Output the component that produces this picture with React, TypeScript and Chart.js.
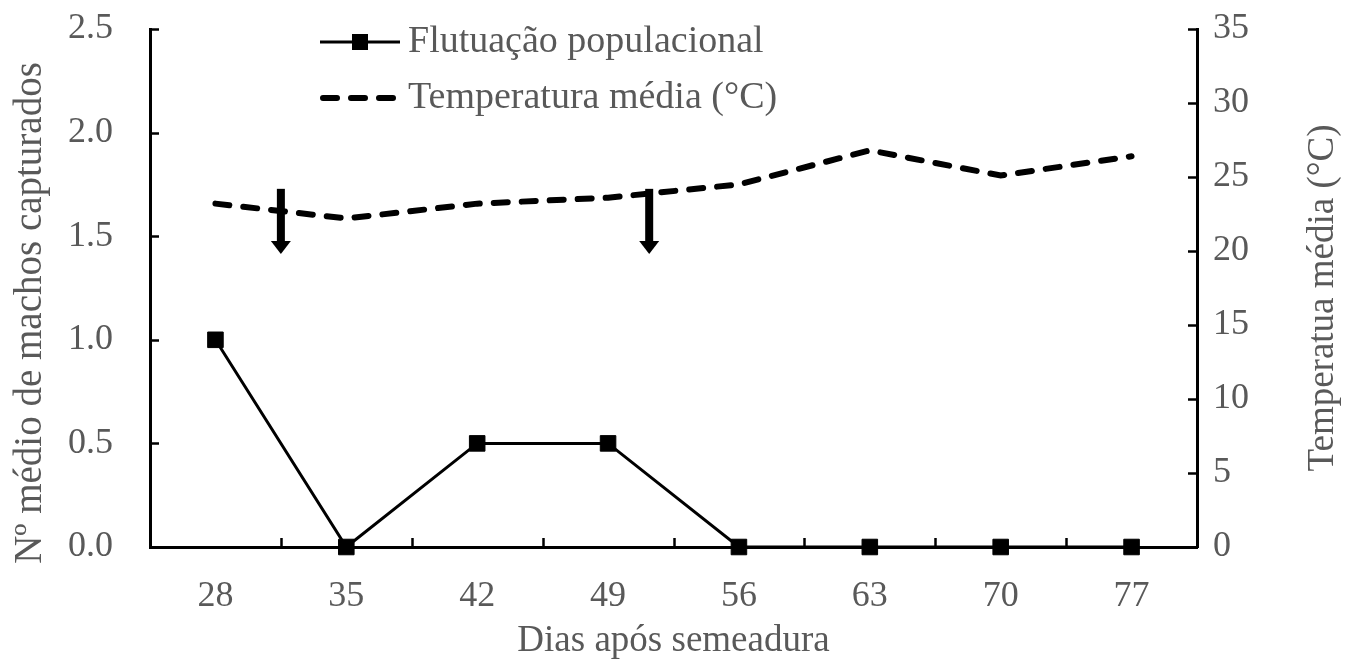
import React, { useEffect, useRef } from 'react';
import { Chart, registerables } from 'chart.js';

Chart.register(...registerables);

// ---- data ----
const days = ['28', '35', '42', '49', '56', '63', '70', '77'];
const males = [1.0, 0, 0.5, 0.5, 0, 0, 0, 0];
const temperature = [23.2, 22.2, 23.2, 23.6, 24.5, 26.8, 25.1, 26.4];
const leftTickValues = [0, 0.5, 1.0, 1.5, 2.0, 2.5];
const rightTickValues = [0, 5, 10, 15, 20, 25, 30, 35];
const arrowDays = [31.5, 51.2];
const arrowTopTemp = 24.2;
const arrowTipTemp = 19.8;
const seriesNames = ['Flutuação populacional', 'Temperatura média (°C)'];
const xTitle = 'Dias após semeadura';
const yTitle = 'Nº médio de machos capturados';
const y1Title = 'Temperatua média (°C)';

const FONT = '"Liberation Serif", "Times New Roman", serif';
const TEXT = '#595959';

const PLOT = { left: 150, right: 1197, top: 29, bottom: 547 };

const decorPlugin = {
  id: 'decor',
  afterDatasetsDraw(chart: any) {
    const { ctx, scales } = chart;
    const x = scales.x;
    const y1 = scales.y1;
    ctx.save();
    ctx.fillStyle = '#000';
    arrowDays.forEach((d) => {
      const idx = (d - Number(days[0])) / (Number(days[1]) - Number(days[0]));
      const px = x.getPixelForValue(idx);
      const top = y1.getPixelForValue(arrowTopTemp);
      const tip = y1.getPixelForValue(arrowTipTemp);
      const headH = 13;
      ctx.fillRect(px - 4, top, 8, tip - top - headH + 1);
      ctx.beginPath();
      ctx.moveTo(px - 10, tip - headH);
      ctx.lineTo(px + 10, tip - headH);
      ctx.lineTo(px, tip);
      ctx.closePath();
      ctx.fill();
    });
    ctx.restore();
  },
  afterDraw(chart: any) {
    const { ctx, chartArea, scales } = chart;
    const { left, right, bottom } = chartArea;
    ctx.save();
    ctx.strokeStyle = '#000';
    ctx.lineWidth = 2.5;
    const tl = 9;
    scales.y.ticks.forEach((_t: any, i: number) => {
      const py = Math.round(scales.y.getPixelForTick(i)) + 0.5;
      ctx.beginPath(); ctx.moveTo(left, py); ctx.lineTo(left + tl, py); ctx.stroke();
    });
    scales.y1.ticks.forEach((_t: any, i: number) => {
      const py = Math.round(scales.y1.getPixelForTick(i)) + 0.5;
      ctx.beginPath(); ctx.moveTo(right - tl, py); ctx.lineTo(right, py); ctx.stroke();
    });
    for (let i = 1; i < days.length; i++) {
      const px = Math.round(scales.x.getPixelForValue(i - 0.5)) + 0.5;
      ctx.beginPath(); ctx.moveTo(px, bottom); ctx.lineTo(px, bottom - tl); ctx.stroke();
    }

    // titles
    ctx.fillStyle = TEXT;
    ctx.textAlign = 'center';
    ctx.textBaseline = 'middle';
    ctx.font = `37px ${FONT}`;
    ctx.fillText(xTitle, (left + right) / 2, 641);
    ctx.save();
    ctx.translate(31, 313);
    ctx.rotate(-Math.PI / 2);
    ctx.font = `39px ${FONT}`;
    ctx.fillText(yTitle, 0, 0);
    ctx.restore();
    ctx.save();
    ctx.translate(1323, 298);
    ctx.rotate(-Math.PI / 2);
    ctx.font = `37px ${FONT}`;
    ctx.fillText(y1Title, 0, 0);
    ctx.restore();

    // legend
    const lx0 = 320, lx1 = 400, ly1 = 42, ly2 = 98;
    ctx.lineWidth = 3;
    ctx.setLineDash([]);
    ctx.beginPath(); ctx.moveTo(lx0, ly1); ctx.lineTo(lx1, ly1); ctx.stroke();
    ctx.fillStyle = '#000';
    ctx.fillRect((lx0 + lx1) / 2 - 8, ly1 - 8, 16, 16);
    ctx.lineWidth = 6;
    ctx.lineCap = 'round';
    ctx.setLineDash([14, 14]);
    ctx.beginPath(); ctx.moveTo(lx0 + 3, ly2); ctx.lineTo(lx1, ly2); ctx.stroke();
    ctx.setLineDash([]);
    ctx.fillStyle = TEXT;
    ctx.textAlign = 'left';
    ctx.font = `38px ${FONT}`;
    ctx.fillText(seriesNames[0], 408, ly1);
    ctx.fillText(seriesNames[1], 408, ly2);
    ctx.restore();
  },
};

export default function App() {
  const ref = useRef<HTMLCanvasElement>(null);
  useEffect(() => {
    if (!ref.current) return;
    const chart = new Chart(ref.current, {
      type: 'line',
      data: {
        labels: days,
        datasets: [
          {
            label: seriesNames[0],
            data: males,
            yAxisID: 'y',
            borderColor: '#000',
            backgroundColor: '#000',
            borderWidth: 3,
            pointStyle: 'rect',
            pointRadius: 11,
            pointBorderWidth: 1,
            pointBackgroundColor: '#000',
            pointBorderColor: '#000',
            tension: 0,
            clip: false,
          } as any,
          {
            label: seriesNames[1],
            data: temperature,
            yAxisID: 'y1',
            borderColor: '#000',
            borderWidth: 6,
            borderDash: [14, 14],
            borderCapStyle: 'round',
            pointRadius: 0,
            tension: 0,
            clip: false,
          } as any,
        ],
      },
      options: {
        animation: false,
        responsive: false,
        maintainAspectRatio: false,
        layout: { padding: 0, autoPadding: false } as any,
        plugins: { legend: { display: false }, tooltip: { enabled: false } },
        scales: {
          x: {
            type: 'category',
            offset: true,
            grid: { display: false, drawTicks: false },
            border: { display: true, color: '#000', width: 3 },
            ticks: { color: TEXT, font: { family: FONT, size: 36 }, padding: 28 },
            afterFit: (s: any) => { s.height = 662 - PLOT.bottom; },
          },
          y: {
            position: 'left',
            min: 0,
            max: 2.5,
            grid: { display: false, drawTicks: false },
            border: { display: true, color: '#000', width: 3 },
            afterBuildTicks: (s: any) => { s.ticks = leftTickValues.map((v) => ({ value: v })); },
            ticks: {
              color: TEXT,
              font: { family: FONT, size: 36 },
              padding: 37,
              callback: (v: any) => Number(v).toFixed(1),
            },
            afterFit: (s: any) => { s.width = PLOT.left; s.paddingTop = 0; s.paddingBottom = 0; },
          },
          y1: {
            position: 'right',
            min: 0,
            max: 35,
            grid: { display: false, drawTicks: false },
            border: { display: true, color: '#000', width: 3 },
            afterBuildTicks: (s: any) => { s.ticks = rightTickValues.map((v) => ({ value: v })); },
            ticks: { color: TEXT, font: { family: FONT, size: 36 }, padding: 16 },
            afterFit: (s: any) => { s.width = 1348 - PLOT.right; s.paddingTop = 0; s.paddingBottom = 0; },
          },
        },
      } as any,
      plugins: [
        {
          id: 'fixArea',
          beforeInit(c: any) {
            c.options.layout.padding = { top: PLOT.top, left: 0, right: 0, bottom: 0 };
          },
        },
        decorPlugin,
      ],
    });
    return () => chart.destroy();
  }, []);
  return (
    <div style={{ position: 'absolute', left: 0, top: 0, width: 1348, height: 662, background: '#fff' }}>
      <canvas ref={ref} width={1348} height={662} style={{ display: 'block' }} />
    </div>
  );
}
